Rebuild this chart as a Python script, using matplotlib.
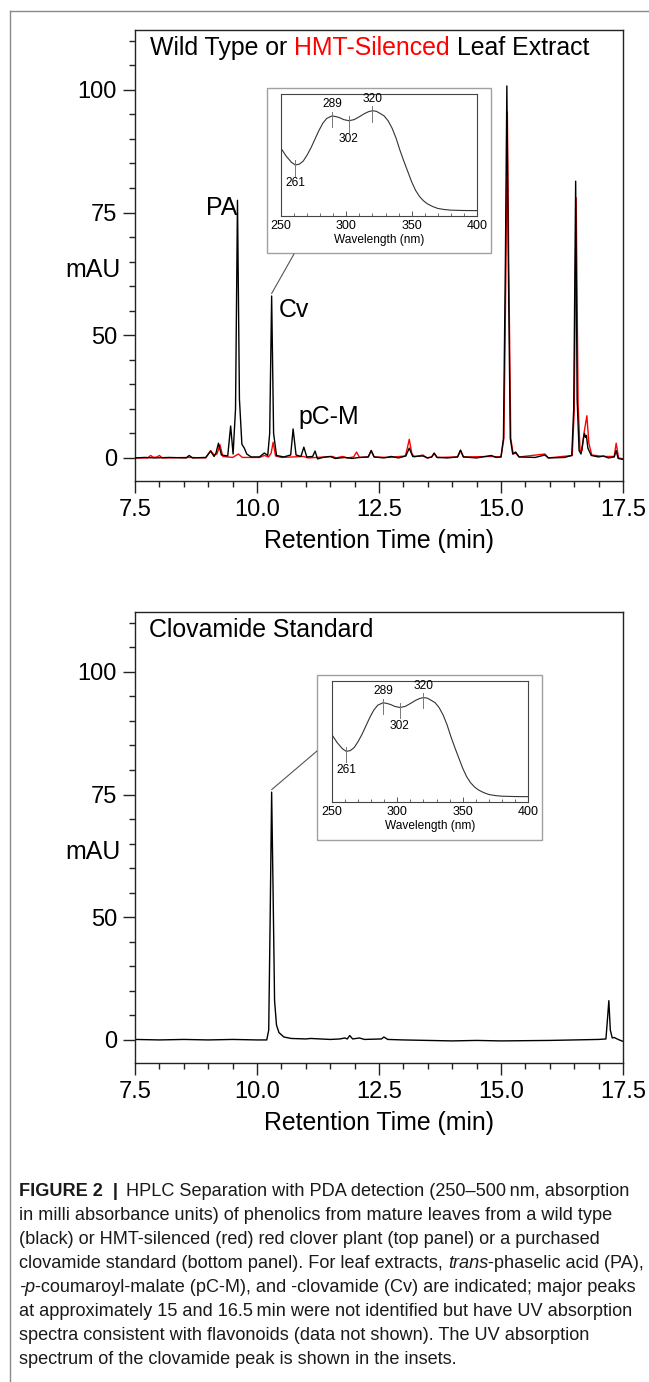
import matplotlib
matplotlib.use("Agg")
import numpy as np
import matplotlib.pyplot as plt
from matplotlib.lines import Line2D
from matplotlib.patches import Rectangle, ConnectionPatch
from matplotlib.ticker import MultipleLocator, FixedLocator, FixedFormatter

plt.rcParams['font.family'] = ['Liberation Sans', 'DejaVu Sans']

# ---------------- data ----------------
# Wild type leaf extract (black), retention time (min) / signal (axis units, baseline = 0)
wt_time = [7.50, 7.70, 7.90, 8.20, 8.55, 8.61, 8.68, 8.95, 9.05, 9.12, 9.16, 9.21, 9.27, 9.40,
           9.46, 9.51, 9.56, 9.60, 9.64, 9.69, 9.74, 9.79, 9.88, 10.05, 10.15, 10.22, 10.26,
           10.30, 10.34, 10.40, 10.55, 10.69, 10.74, 10.80, 10.90, 10.96, 11.02, 11.14, 11.19,
           11.24, 11.35, 11.50, 11.60, 11.80, 11.95, 12.10, 12.28, 12.34, 12.40, 12.60, 12.75,
           12.90, 13.05, 13.12, 13.19, 13.40, 13.50, 13.58, 13.63, 13.69, 13.90, 14.11, 14.17,
           14.23, 14.50, 14.80, 14.90, 15.00, 15.05, 15.09, 15.12, 15.15, 15.19, 15.24, 15.30,
           15.37, 15.70, 15.90, 15.97, 16.30, 16.45, 16.49, 16.53, 16.56, 16.60, 16.64, 16.69,
           16.71, 16.73, 16.75, 16.78, 16.85, 17.00, 17.10, 17.20, 17.32, 17.36, 17.40, 17.50]
wt_mau = [0.0, 0.1, 0.0, 0.1, 0.0, 0.5, 0.0, 0.1, 1.4, 0.3, 1.0, 3.0, 0.6, 0.4,
          6.5, 0.8, 10.0, 52.5, 12.0, 2.8, 2.0, 0.8, 0.2, 0.2, 1.0, 0.5, 5.0,
          33.0, 5.0, 0.5, 0.2, 0.6, 5.9, 0.6, 0.3, 2.2, 0.2, 0.3, 1.4,
          -0.2, 0.1, 0.3, -0.1, 0.1, -0.1, 0.1, 0.2, 1.5, 0.2, 0.0, 0.3,
          0.0, 0.4, 2.0, 0.3, 0.4, 0.0, 0.2, 1.0, 0.1, 0.0, 0.2, 1.6,
          0.2, 0.0, 0.5, 0.1, 0.2, 4.0, 40.0, 75.8, 40.0, 4.0, 0.8, 1.2,
          0.2, 0.1, 0.6, 0.0, 0.1, 0.5, 10.0, 56.4, 12.0, 1.5, 0.8, 4.0,
          5.0, 4.2, 4.6, 2.0, 0.5, 0.2, 0.4, 0.0, 0.2, 1.5, -0.1, -0.3]

# HMT-silenced leaf extract (red)
hmt_time = [7.50, 7.76, 7.82, 7.88, 7.95, 8.00, 8.06, 8.60, 8.95, 9.05, 9.12, 9.18, 9.24, 9.30,
            9.50, 9.62, 9.70, 10.05, 10.15, 10.24, 10.29, 10.33, 10.38, 10.50, 10.95, 11.05,
            11.55, 11.62, 11.75, 11.85, 11.98, 12.04, 12.10, 12.28, 12.34, 12.40, 12.70, 13.04,
            13.08, 13.12, 13.17, 13.22, 13.40, 13.48, 13.58, 13.63, 13.69, 14.11, 14.17, 14.23,
            14.80, 15.00, 15.06, 15.10, 15.13, 15.16, 15.20, 15.25, 15.30, 15.37, 15.90, 15.97,
            16.46, 16.50, 16.54, 16.58, 16.62, 16.66, 16.70, 16.76, 16.80, 16.86, 17.10, 17.32,
            17.36, 17.41, 17.50]
hmt_mau = [0.0, 0.0, 0.5, 0.1, 0.2, 0.5, 0.0, 0.1, 0.0, 1.5, 0.6, 0.8, 2.7, 0.3,
           0.1, 0.8, 0.1, 0.1, 0.5, 0.2, 1.0, 3.2, 0.4, 0.1, 0.3, 0.0,
           0.3, 0.0, 0.3, 0.0, 0.2, 1.2, 0.1, 0.2, 1.5, 0.2, 0.1, 0.4,
           2.0, 3.8, 1.0, 0.2, 0.6, 0.0, 0.2, 0.9, 0.1, 0.2, 1.5, 0.2,
           0.3, 0.2, 4.0, 38.0, 70.5, 38.0, 4.0, 0.8, 1.0, 0.2, 0.8, 0.0,
           0.5, 9.5, 53.0, 11.0, 1.5, 1.5, 5.0, 8.6, 3.0, 0.6, 0.3, 0.3,
           3.0, 0.0, -0.2]

# Clovamide standard (bottom panel)
std_time = [7.50, 8.00, 8.50, 9.00, 9.50, 10.00, 10.20, 10.24, 10.27, 10.30, 10.33, 10.36,
            10.40, 10.45, 10.55, 10.70, 11.00, 11.10, 11.50, 11.70, 11.80, 11.85, 11.90, 11.96,
            12.10, 12.20, 12.55, 12.60, 12.68, 13.00, 14.00, 14.50, 15.00, 16.00, 16.50, 17.00,
            17.15, 17.18, 17.21, 17.24, 17.28, 17.32, 17.40, 17.50]
std_mau = [0.1, 0.0, 0.1, 0.0, 0.1, 0.0, 0.0, 2.0, 25.0, 50.5, 30.0, 8.0,
           3.0, 1.5, 0.6, 0.3, 0.2, 0.3, 0.1, 0.2, 0.4, 0.2, 0.9, 0.2,
           0.4, 0.1, 0.2, 0.6, 0.1, 0.0, -0.2, -0.1, -0.2, -0.1, 0.0, 0.1,
           0.2, 4.0, 8.0, 2.0, 0.4, 0.5, 0.1, -0.3]

# UV spectrum of the clovamide peak (insets), relative absorbance
spec_nm = [250, 254, 258, 261, 264, 267, 270, 273, 276, 279, 282, 285, 289, 292, 295, 298,
           302, 306, 310, 314, 317, 320, 323, 326, 329, 332, 335, 338, 341, 344, 347, 350,
           353, 356, 359, 362, 366, 370, 375, 380, 390, 400]
spec_abs = [0.555, 0.49, 0.44, 0.418, 0.425, 0.45, 0.50, 0.56, 0.63, 0.70, 0.76, 0.80, 0.82,
            0.815, 0.805, 0.79, 0.781, 0.79, 0.814, 0.84, 0.855, 0.863, 0.858, 0.84, 0.82,
            0.78, 0.72, 0.64, 0.54, 0.45, 0.365, 0.28, 0.21, 0.16, 0.125, 0.10, 0.078, 0.062,
            0.053, 0.048, 0.045, 0.044]
marker_nm = [261, 289, 302, 320]
marker_text = ['261', '289', '302', '320']
marker_above = [False, True, False, True]

# axis ticks (labels as printed on the figure)
ytick_pos = [0, 25, 50, 75]
ytick_labels = ['0', '50', '75', '100']
xtick_pos = [7.5, 10.0, 12.5, 15.0, 17.5]
xtick_labels = ['7.5', '10.0', '12.5', '15.0', '17.5']
inset_ticks = [250, 300, 350, 400]

peak_labels = ['PA', 'Cv', 'pC-M']

caption_lines = [
    [("FIGURE 2  |", 'bold', 'normal', 0),
     ("HPLC Separation with PDA detection (250\u2013500\u2009nm, absorption", 'normal', 'normal', 1.5)],
    [("in milli absorbance units) of phenolics from mature leaves from a wild type", 'normal', 'normal', 0)],
    [("(black) or HMT-silenced (red) red clover plant (top panel) or a purchased", 'normal', 'normal', 0)],
    [("clovamide standard (bottom panel). For leaf extracts,", 'normal', 'normal', 0),
     ("trans", 'normal', 'italic', 1),
     ("-phaselic acid (PA),", 'normal', 'normal', 0)],
    [("-p", 'normal', 'italic', 0),
     ("-coumaroyl-malate (pC-M), and -clovamide (Cv) are indicated; major peaks", 'normal', 'normal', 0)],
    [("at approximately 15 and 16.5\u2009min were not identified but have UV absorption", 'normal', 'normal', 0)],
    [("spectra consistent with flavonoids (data not shown). The UV absorption", 'normal', 'normal', 0)],
    [("spectrum of the clovamide peak is shown in the insets.", 'normal', 'normal', 0)],
]

# ---------------- layout helpers ----------------
W, H = 649, 1382
fig = plt.figure(figsize=(W / 100, H / 100), dpi=100)


def fx(px):
    return px / W


def fy(py):
    return 1 - py / H


def rect(l, t, r, b):
    return [l / W, 1 - b / H, (r - l) / W, (b - t) / H]


BIG = 17.9
SPINE = '#222222'


def style_main(ax):
    ax.set_xlim(7.5, 17.5)
    ax.set_ylim(-4.7, 87.2)
    ax.xaxis.set_major_locator(FixedLocator(xtick_pos))
    ax.xaxis.set_major_formatter(FixedFormatter(xtick_labels))
    ax.xaxis.set_minor_locator(MultipleLocator(0.5))
    ax.yaxis.set_major_locator(FixedLocator(ytick_pos))
    ax.yaxis.set_major_formatter(FixedFormatter(ytick_labels))
    ax.yaxis.set_minor_locator(MultipleLocator(5))
    ax.tick_params(which='major', direction='out', length=8.6, width=1.0, color=SPINE,
                   labelsize=17, pad=4.3)
    ax.tick_params(which='minor', direction='out', length=4.3, width=1.0, color=SPINE)
    for s in ax.spines.values():
        s.set_linewidth(1.0)
        s.set_color(SPINE)
    ax.set_xlabel('Retention Time (min)', fontsize=BIG, labelpad=6)
    ax.text(-0.086, 0.468, 'mAU', transform=ax.transAxes, ha='center', va='center', fontsize=BIG)


def make_inset(box_px, outer_px):
    l, t, r, b = outer_px
    fig.add_artist(Rectangle((fx(l), fy(b)), (r - l) / W, (b - t) / H, transform=fig.transFigure,
                             facecolor='white', edgecolor='#a0a0a0', linewidth=1.0, zorder=3))
    ai = fig.add_axes(rect(*box_px))
    ai.set_zorder(4)
    ai.plot(spec_nm, spec_abs, color='#333333', lw=0.8)
    ai.set_xlim(250, 400)
    ai.set_ylim(0, 1)
    ai.set_yticks([])
    ai.xaxis.set_major_locator(FixedLocator(inset_ticks))
    ai.xaxis.set_minor_locator(MultipleLocator(10))
    ai.tick_params(axis='x', which='major', direction='in', length=3.5, width=0.7,
                   color='#555555', labelsize=9, pad=3)
    ai.tick_params(axis='x', which='minor', direction='in', length=2.2, width=0.6, color='#555555')
    for s in ai.spines.values():
        s.set_linewidth(0.8)
        s.set_color('#444444')
    ai.set_xlabel('Wavelength (nm)', fontsize=8.6, labelpad=1.5)
    for nm, txt, above in zip(marker_nm, marker_text, marker_above):
        v = float(np.interp(nm, spec_nm, spec_abs))
        if above:
            ai.plot([nm, nm], [v + 0.035, v - 0.09], color='#777777', lw=0.7)
            ai.text(nm, v + 0.05, txt, ha='center', va='bottom', fontsize=8.6)
        else:
            ai.plot([nm, nm], [v + 0.04, v - 0.09], color='#777777', lw=0.7)
            ai.text(nm, v - 0.10, txt, ha='center', va='top', fontsize=8.6)
    return ai


# ---------------- top panel ----------------
ax1 = fig.add_axes(rect(135, 30, 623, 481))
ax1.plot(hmt_time, hmt_mau, color='#ff0000', lw=1.0, zorder=2)
ax1.plot(wt_time, wt_mau, color='black', lw=1.0, zorder=3)
style_main(ax1)

t1 = ax1.text(0.031, 0.933, 'Wild Type or', transform=ax1.transAxes, ha='left', va='bottom',
              fontsize=BIG)
t2 = ax1.annotate('HMT-Silenced', xy=(1, 0), xycoords=t1, xytext=(6.9, 0),
                  textcoords='offset pixels', ha='left', va='bottom', fontsize=BIG, color='#ff0000')
ax1.annotate('Leaf Extract', xy=(1, 0), xycoords=t2, xytext=(6.9, 0),
             textcoords='offset pixels', ha='left', va='bottom', fontsize=BIG)

ax1.text(9.28, 51.0, peak_labels[0], ha='center', va='center', fontsize=BIG)
ax1.text(10.44, 30.2, peak_labels[1], ha='left', va='center', fontsize=BIG)
ax1.text(10.84, 8.4, peak_labels[2], ha='left', va='center', fontsize=BIG)

make_inset((281, 94, 477, 216), (267, 88, 491, 253))
wt_t = np.array(wt_time)
wt_v = np.array(wt_mau)
win = (wt_t > 10.2) & (wt_t < 10.4)
cv_i = np.argmax(np.where(win, wt_v, -1))
con1 = ConnectionPatch(xyA=(fx(294), fy(254)), coordsA=fig.transFigure,
                       xyB=(wt_t[cv_i], wt_v[cv_i] + 0.5), coordsB=ax1.transData,
                       color='#555555', lw=0.8, zorder=5)
fig.add_artist(con1)

# ---------------- bottom panel ----------------
ax2 = fig.add_axes(rect(135, 612, 623, 1063))
ax2.plot(std_time, std_mau, color='black', lw=1.0)
style_main(ax2)
ax2.text(0.029, 0.933, 'Clovamide Standard', transform=ax2.transAxes, ha='left', va='bottom',
         fontsize=BIG)
make_inset((332, 681, 528, 802), (317, 675, 542, 840))
st_t = np.array(std_time)
st_v = np.array(std_mau)
pk = np.argmax(st_v)
con2 = ConnectionPatch(xyA=(fx(317), fy(751)), coordsA=fig.transFigure,
                       xyB=(st_t[pk], st_v[pk] + 0.5), coordsB=ax2.transData,
                       color='#555555', lw=0.8, zorder=5)
fig.add_artist(con2)

# ---------------- frame lines ----------------
fig.add_artist(Line2D([fx(10), fx(10)], [fy(11), 0], transform=fig.transFigure,
                      color='#8a8a8a', lw=1.0))
fig.add_artist(Line2D([fx(10), 1], [fy(11), fy(11)], transform=fig.transFigure,
                      color='#8a8a8a', lw=1.0))

# ---------------- caption ----------------
cap_ax = fig.add_axes([0, 0, 1, 1])
cap_ax.axis('off')
cap_ax.set_zorder(10)
CAP = 13.1
space_px = CAP * 0.278 * 100 / 72
for k, segs in enumerate(caption_lines):
    ybase = 1196 + 24.0 * k
    prev = None
    for text, weight, style, gap in segs:
        kw = dict(fontsize=CAP, fontweight=weight, fontstyle=style, color='#1a1a1a')
        if prev is None:
            prev = cap_ax.text(fx(19), fy(ybase), text, transform=fig.transFigure,
                               ha='left', va='baseline', **kw)
        else:
            prev = cap_ax.annotate(text, xy=(1, 0), xycoords=prev,
                                   xytext=(gap * space_px, 0),
                                   textcoords='offset pixels', ha='left', va='bottom', **kw)

fig.savefig('out.png', dpi=100)
